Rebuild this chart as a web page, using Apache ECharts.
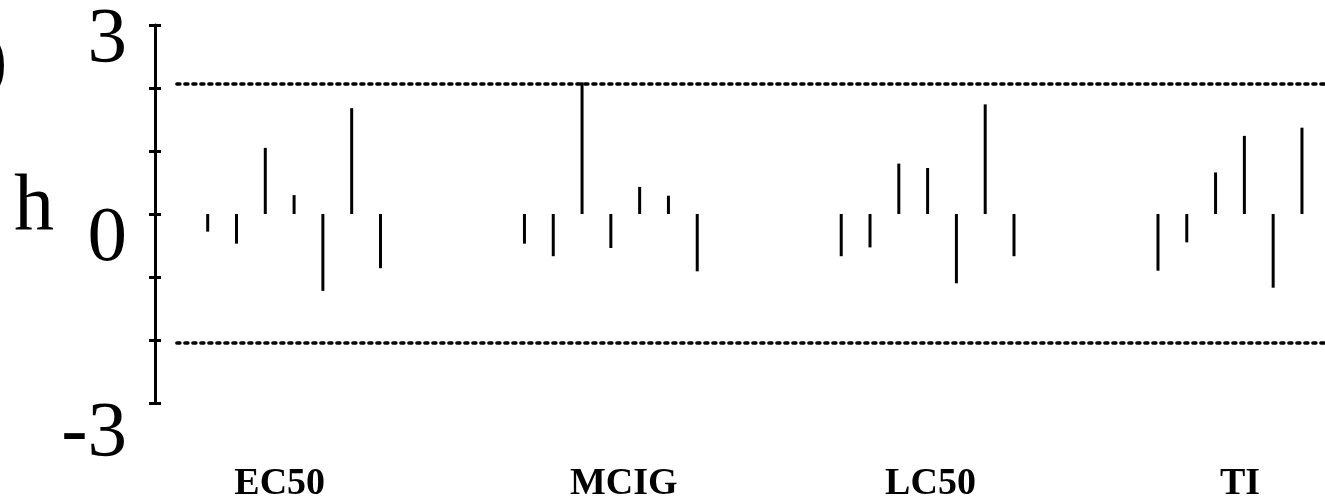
<!DOCTYPE html>
<html>
<head>
<meta charset="utf-8">
<script src="https://cdn.jsdelivr.net/npm/echarts@6/dist/echarts.min.js"></script>
<style>
html,body{margin:0;padding:0;background:#fff;}
#chart{width:1325px;height:503px;}
</style>
</head>
<body>
<div id="chart"></div>
<script>
// ---- data ----
const categories = ['EC50', 'MCIG', 'LC50', 'TI'];
const ec50 = [-0.28, -0.47, 1.05, 0.30, -1.22, 1.68, -0.86];
const mcig = [-0.47, -0.67, 2.09, -0.54, 0.43, 0.29, -0.91];
const lc50 = [-0.67, -0.53, 0.80, 0.73, -1.10, 1.74, -0.67];
const ti   = [-0.90, -0.45, 0.66, 1.24, -1.17, 1.37];
const yTickLabels = [-3, 0, 3];
const upperLimit = 2.06;
const lowerLimit = -2.04;
const yAxisName = 'h';

// ---- layout ----
const slotsPerGroup = 11;
const labelPos = [2.5, 14.45, 25.1, 35.85];
const xMin = -1.83, xMax = 38.8, lineStart = -1.07;

const groups = [ec50, mcig, lc50, ti];
const barData = [];
groups.forEach((vals, g) => vals.forEach((v, i) => barData.push([g * slotsPerGroup + i, v])));

const chart = echarts.init(document.getElementById('chart'));
const serif = 'Liberation Serif';
const labelShift = {'3': 30, '0': 50, '-3': 62};
const yFont = 79;

chart.setOption({
  animation: false,
  backgroundColor: '#fff',
  grid: {left: 155, right: 0, top: 25, bottom: 100},
  xAxis: {
    type: 'value', min: xMin, max: xMax,
    axisLine: {show: false}, axisTick: {show: false}, splitLine: {show: false},
    axisLabel: {
      customValues: labelPos,
      formatter: v => { const k = labelPos.indexOf(v); return k >= 0 ? categories[k] : ''; },
      fontFamily: serif, fontWeight: 'bold', fontSize: 38, color: '#000', margin: 62
    }
  },
  yAxis: [{
    type: 'value', position: 'left', min: -3, max: 3, interval: 1,
    axisLine: {show: true, onZero: false, lineStyle: {color: '#000', width: 3}},
    axisTick: {show: true, length: 6, lineStyle: {color: '#000', width: 3}},
    splitLine: {show: false},
    axisLabel: {
      margin: 28, color: '#000', fontFamily: serif, fontSize: yFont,
      formatter: v => yTickLabels.indexOf(v) >= 0 ? '{s' + (v + 3) + '|' + v + '}' : '',
      rich: {
        s0: {fontFamily: serif, fontSize: yFont, color: '#000', padding: [labelShift['-3'], 0, 0, 0]},
        s3: {fontFamily: serif, fontSize: yFont, color: '#000', padding: [labelShift['0'], 0, 0, 0]},
        s6: {fontFamily: serif, fontSize: yFont, color: '#000', padding: [labelShift['3'], 0, 0, 0]}
      }
    }
  }, {
    type: 'value', position: 'left', min: -3, max: 3, interval: 1,
    axisLine: {show: false, onZero: false},
    axisTick: {show: true, inside: true, length: 6, lineStyle: {color: '#000', width: 3}},
    axisLabel: {show: false}, splitLine: {show: false}
  }],
  graphic: [
    {type: 'text', left: 14, top: 168, style: {text: yAxisName, font: '80px "Liberation Serif"', fill: '#000'}},
    {type: 'text', left: -18, top: 26, style: {text: ')', font: '76px "Liberation Serif"', fill: '#000'}}
  ],
  series: [{
    type: 'custom',
    data: barData,
    renderItem: (params, api) => {
      const p0 = api.coord([api.value(0), 0]);
      const p1 = api.coord([api.value(0), api.value(1)]);
      return {type: 'line', shape: {x1: p0[0], y1: p0[1], x2: p1[0], y2: p1[1]},
              style: {stroke: '#000', lineWidth: 3}};
    },
    markLine: {
      silent: true, symbol: 'none', label: {show: false},
      lineStyle: {color: '#000', width: 3.5, type: [3, 5], cap: 'round'},
      data: [
        [{coord: [lineStart, upperLimit]}, {coord: [xMax, upperLimit]}],
        [{coord: [lineStart, lowerLimit]}, {coord: [xMax, lowerLimit]}]
      ]
    }
  }]
});
</script>
</body>
</html>
